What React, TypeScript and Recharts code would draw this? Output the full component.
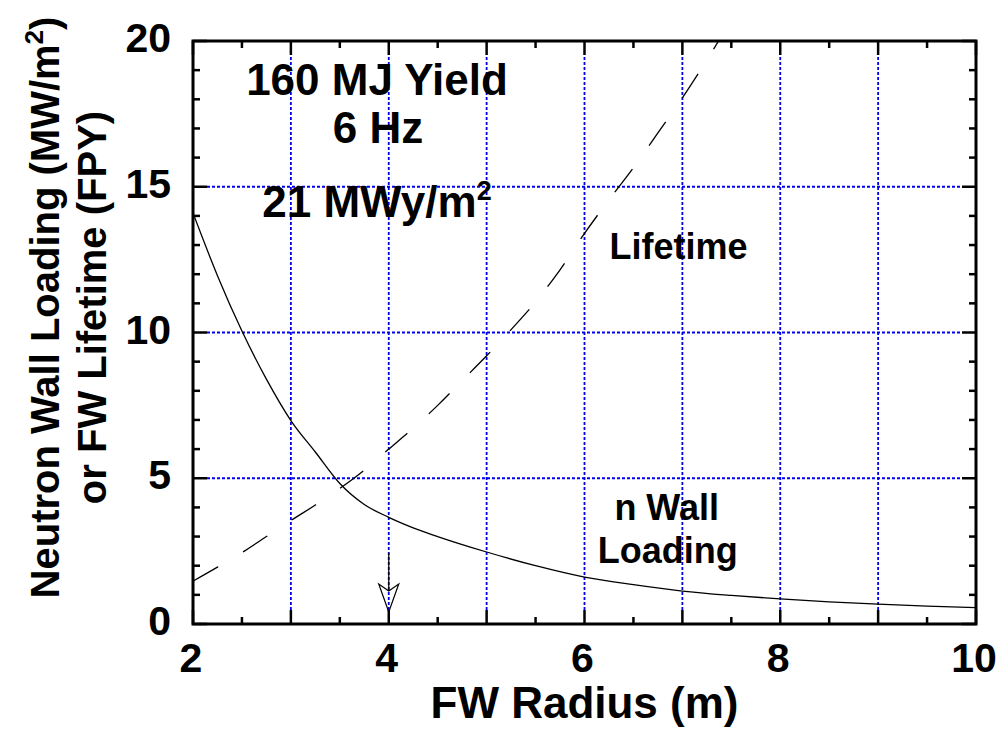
import React from 'react';
import { LineChart, Line, XAxis, YAxis, ReferenceLine, ReferenceArea, ReferenceDot } from 'recharts';

// ---- data ----
const wallRadius = [2, 2.25, 2.5, 2.75, 3, 3.25, 3.5, 3.75, 4, 4.25, 4.5, 5, 5.5, 6, 6.5, 7, 7.5, 8, 8.5, 9, 9.5, 10];
const wallLoading = [14.1, 11.95, 10.05, 8.4, 6.98, 5.9, 4.82, 4.1, 3.66, 3.3, 3.0, 2.47, 2.0, 1.61, 1.35, 1.13, 0.98, 0.86, 0.76, 0.68, 0.61, 0.56];

const lifeRadius = [2, 2.25, 2.5, 2.75, 3, 3.25, 3.5, 3.75, 4, 4.25, 4.5, 4.75, 5, 5.25, 5.5, 5.75, 6, 6.25, 6.5, 6.75, 7, 7.25, 7.37];
const lifetime = [1.47, 1.95, 2.45, 3.0, 3.55, 4.08, 4.65, 5.28, 6.0, 6.72, 7.5, 8.35, 9.2, 10.1, 11.05, 12.15, 13.4, 14.55, 15.65, 16.85, 18.05, 19.35, 20];

const xTickLabels = [2, 4, 6, 8, 10];
const yTickLabels = [0, 5, 10, 15, 20];
const xTickMarks = [2, 2.5, 3, 3.5, 4, 4.5, 5, 5.5, 6, 6.5, 7, 7.5, 8, 8.5, 9, 9.5, 10];
const yTickMarks = [0, 1, 2, 3, 4, 5, 6, 7, 8, 9, 10, 11, 12, 13, 14, 15, 16, 17, 18, 19, 20];
const gridX = [3, 4, 5, 6, 7, 8, 9];
const gridY = [5, 10, 15];

const arrowX = 4;
const arrowTop = 2.44;
const arrowNotch = 1.14;
const arrowTip = 0.41;

const wallData = wallRadius.map((r, i) => ({ r, v: wallLoading[i] }));
const lifeData = lifeRadius.map((r, i) => ({ r, v: lifetime[i] }));

const X_MIN = 2, X_MAX = 10, Y_MIN = 0, Y_MAX = 20;
const FONT = "'Liberation Sans', Arial, Helvetica, sans-serif";

// tick lengths expressed in data units (plot is 783 x 583 px for 8 x 20 units)
const XU = 8 / 783;
const YU = 20 / 583;
const MAJ = 14, MIN = 7;

const XTick = (p: any) => (
  <text x={p.x} y={p.y} dx={-2} dy={48} textAnchor="middle" fontSize={41} fontWeight="bold" fontFamily={FONT} fill="#000">
    {p.payload.value}
  </text>
);

const YTick = (p: any) => (
  <text x={p.x - 22} y={p.y} dy={11} textAnchor="end" fontSize={41} fontWeight="bold" fontFamily={FONT} fill="#000">
    {p.payload.value}
  </text>
);

const XTitle = (props: any) => {
  const vb = props.viewBox;
  return (
    <text x={vb.x + vb.width / 2} y={vb.y + 94} textAnchor="middle" fontSize={44} fontWeight="bold" fontFamily={FONT} fill="#000">
      FW Radius (m)
    </text>
  );
};

const YTitle = (props: any) => {
  const vb = props.viewBox;
  const cy = vb.y + vb.height / 2 - 25;
  const x1 = vb.x + vb.width - 134;
  const x2 = vb.x + vb.width - 87;
  return (
    <g fontSize={40} fontWeight="bold" fontFamily={FONT} fill="#000">
      <text transform={`translate(${x1},${cy}) rotate(-90)`} textAnchor="middle">
        Neutron Wall Loading (MW/m<tspan dy={-16} fontSize={26}>2</tspan><tspan dy={16}>)</tspan>
      </text>
      <text transform={`translate(${x2},${cy}) rotate(-90)`} textAnchor="middle">
        or FW Lifetime (FPY)
      </text>
    </g>
  );
};

const annotations = [
  { x: 3.88, y: 18.15, size: 44, text: '160 MJ Yield', sup: '' },
  { x: 3.89, y: 16.5, size: 44, text: '6 Hz', sup: '' },
  { x: 3.88, y: 13.96, size: 44, text: '21 MWy/m', sup: '2' },
  { x: 6.96, y: 12.52, size: 36, text: 'Lifetime', sup: '' },
  { x: 6.84, y: 3.57, size: 36, text: 'n Wall', sup: '' },
  { x: 6.85, y: 2.09, size: 36, text: 'Loading', sup: '' },
];

export default function App() {
  const gridStyle = { stroke: '#0000ee', strokeWidth: 1.8, strokeDasharray: '3 2' };
  const tickStyle = { stroke: '#000', strokeWidth: 2.5 };
  return (
    <div style={{ position: 'absolute', left: 0, top: 0, background: '#fff' }}>
      <LineChart width={1003} height={738} margin={{ top: 41, right: 27, bottom: 54, left: 133 }}>
        <XAxis
          dataKey="r"
          type="number"
          domain={[X_MIN, X_MAX]}
          ticks={xTickLabels}
          allowDataOverflow
          axisLine={false}
          tickLine={false}
          tickSize={0}
          tickMargin={0}
          height={60}
          tick={XTick}
          label={XTitle}
        />
        <YAxis
          dataKey="v"
          type="number"
          domain={[Y_MIN, Y_MAX]}
          ticks={yTickLabels}
          allowDataOverflow
          axisLine={false}
          tickLine={false}
          tickSize={0}
          tickMargin={0}
          width={60}
          tick={YTick}
          label={YTitle}
        />

        {gridX.map((g) => (
          <ReferenceLine
            key={'gx' + g}
            segment={[{ x: g, y: Y_MIN + MAJ * YU }, { x: g, y: Y_MAX - MAJ * YU }]}
            ifOverflow="visible"
            {...gridStyle}
          />
        ))}
        {gridY.map((g) => (
          <ReferenceLine
            key={'gy' + g}
            segment={[{ x: X_MIN + MAJ * XU, y: g }, { x: X_MAX - MAJ * XU, y: g }]}
            ifOverflow="visible"
            {...gridStyle}
          />
        ))}

        <Line data={wallData} dataKey="v" type="monotone" stroke="#000" strokeWidth={1.3} dot={false} isAnimationActive={false} />
        <Line data={lifeData} dataKey="v" type="monotone" stroke="#000" strokeWidth={1.3} strokeDasharray="29 29" dot={false} isAnimationActive={false} />

        <ReferenceLine
          segment={[{ x: arrowX, y: arrowTop }, { x: arrowX, y: arrowNotch }]}
          ifOverflow="visible"
          stroke="#000"
          strokeWidth={1.2}
        />
        <ReferenceDot
          x={arrowX}
          y={arrowTip}
          r={0}
          ifOverflow="visible"
          shape={(p: any) => (
            <path
              d={`M${p.cx - 10},${p.cy - 28} L${p.cx},${p.cy} L${p.cx + 10},${p.cy - 28} L${p.cx},${p.cy - 21} Z`}
              fill="none"
              stroke="#000"
              strokeWidth={1.2}
            />
          )}
        />

        {xTickMarks.map((t) => {
          const len = (Number.isInteger(t) ? MAJ : MIN) * YU;
          return (
            <React.Fragment key={'xt' + t}>
              <ReferenceLine segment={[{ x: t, y: Y_MIN }, { x: t, y: Y_MIN + len }]} ifOverflow="visible" {...tickStyle} />
              <ReferenceLine segment={[{ x: t, y: Y_MAX }, { x: t, y: Y_MAX - len }]} ifOverflow="visible" {...tickStyle} />
            </React.Fragment>
          );
        })}
        {yTickMarks.map((t) => {
          const len = (t % 5 === 0 ? MAJ : MIN) * XU;
          return (
            <React.Fragment key={'yt' + t}>
              <ReferenceLine segment={[{ x: X_MIN, y: t }, { x: X_MIN + len, y: t }]} ifOverflow="visible" {...tickStyle} />
              <ReferenceLine segment={[{ x: X_MAX, y: t }, { x: X_MAX - len, y: t }]} ifOverflow="visible" {...tickStyle} />
            </React.Fragment>
          );
        })}

        <ReferenceArea x1={X_MIN} x2={X_MAX} y1={Y_MIN} y2={Y_MAX} fill="none" fillOpacity={0} stroke="#000" strokeWidth={3} ifOverflow="visible" />

        {annotations.map((a) => (
          <ReferenceDot
            key={a.text}
            x={a.x}
            y={a.y}
            r={0}
            ifOverflow="visible"
            shape={(p: any) => (
              <text x={p.cx} y={p.cy} textAnchor="middle" fontSize={a.size} fontWeight="bold" fontFamily={FONT} fill="#000">
                {a.text}
                {a.sup ? <tspan dy={-17} fontSize={27}>{a.sup}</tspan> : null}
              </text>
            )}
          />
        ))}
      </LineChart>
    </div>
  );
}
